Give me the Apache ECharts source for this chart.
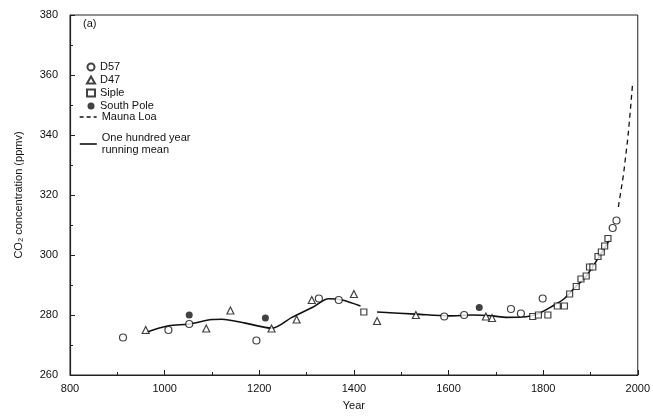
<!DOCTYPE html>
<html>
<head>
<meta charset="utf-8">
<script src="https://cdn.jsdelivr.net/npm/echarts@6/dist/echarts.min.js"></script>
<style>
  html, body { margin: 0; padding: 0; background: #fff; }
  #chart { width: 653px; height: 416px; }
</style>
</head>
<body>
<div id="chart"></div>
<script>
// ice core records (year AD, CO2 ppmv)
const d57Year = [912, 1008, 1052, 1194, 1326, 1368, 1591, 1633, 1732, 1753, 1799, 1947, 1955];
const d57Co2 = [272.5, 275, 277, 271.5, 285.5, 285, 279.5, 280, 282, 280.5, 285.5, 309, 311.5];

const d47Year = [960, 1088, 1139, 1226, 1279, 1311, 1400, 1449, 1531, 1679, 1692];
const d47Co2 = [275, 275.5, 281.5, 275.5, 278.5, 285, 287, 278, 280, 279.5, 279];

const sipleYear = [1421, 1778, 1790, 1810, 1830, 1845, 1856, 1870, 1880, 1891, 1898, 1905, 1916, 1923, 1930, 1937];
const sipleCo2 = [281, 279.5, 280, 280, 283, 283, 287, 289.5, 292, 293, 296, 296, 299.5, 301, 303, 305.5];

const southPoleYear = [1052, 1213, 1665];
const southPoleCo2 = [280, 279, 282.5];

const maunaLoaYear = [1959, 1962, 1970, 1979, 1984, 1989];
const maunaLoaCo2 = [316, 319, 327, 339, 347.5, 357];

// running mean, drawn in two pieces (gap near 1430)
const meanYearA = [960, 1008, 1052, 1100, 1121, 1170, 1227, 1269, 1312, 1347, 1375, 1414];
const meanCo2A = [274.2, 276.4, 277, 278.5, 278.6, 277.3, 275.6, 279.2, 282.5, 285.4, 285, 283];
const meanYearB = [1449, 1531, 1601, 1650, 1693, 1722, 1764, 1792, 1820, 1845, 1870, 1891, 1923, 1940];
const meanCo2B = [281, 280.3, 279.7, 280, 279.7, 279.2, 279.4, 280.6, 283, 285.5, 289.6, 292.9, 300.6, 305];

const yearTicks = [800, 1000, 1200, 1400, 1600, 1800, 2000];

const zip = (xs, ys) => xs.map((x, i) => [x, ys[i]]);

const chart = echarts.init(document.getElementById("chart"));

const openMarker = {
  color: "#fff",
  borderColor: "#111",
  borderWidth: 1.2,
};

const legendText = { fontSize: 11, color: "#111", lineHeight: 12 };

const option = {
  backgroundColor: "#fff",
  animation: false,
  textStyle: { fontFamily: "Liberation Sans, Arial, sans-serif", color: "#111" },
  grid: {
    left: 70,
    right: 15,
    top: 15,
    bottom: 36,
    show: true,
    borderColor: "#222",
    borderWidth: 1,
  },
  title: {
    text: "(a)",
    left: 78,
    top: 13,
    textStyle: { fontSize: 11, fontWeight: "normal", color: "#111" },
  },
  legend: [
    {
      orient: "vertical",
      left: 81,
      top: 56,
      itemWidth: 8,
      itemHeight: 7,
      itemGap: 1,
      textStyle: legendText,
      data: ["D57", "D47", "Siple", "South Pole"],
    },
    {
      orient: "vertical",
      left: 74,
      top: 106,
      itemWidth: 17,
      itemHeight: 7,
      textStyle: legendText,
      itemStyle: { opacity: 0 },
      lineStyle: { type: [4, 3], width: 1.3, color: "#111" },
      data: ["Mauna Loa"],
    },
    {
      orient: "vertical",
      left: 74,
      top: 127,
      itemWidth: 17,
      itemHeight: 7,
      textStyle: legendText,
      itemStyle: { opacity: 0 },
      lineStyle: { width: 1.6, color: "#111" },
      data: ["One hundred year running mean"],
      formatter: () => "One hundred year\nrunning mean",
    },
  ],
  xAxis: {
    type: "value",
    min: 800,
    max: 2000,
    interval: 200,
    name: "Year",
    nameLocation: "middle",
    nameGap: 25,
    nameTextStyle: { fontSize: 11, color: "#111" },
    axisLine: { lineStyle: { color: "#222", width: 1.2 } },
    axisTick: { inside: true, length: 5, lineStyle: { color: "#222" } },
    minorTick: { show: true, splitNumber: 2, length: 3, lineStyle: { color: "#222" } },
    axisLabel: {
      fontSize: 11,
      color: "#111",
      margin: 8,
      formatter: (v) => (yearTicks.includes(v) ? String(v) : ""),
    },
    splitLine: { show: false },
  },
  yAxis: {
    type: "value",
    min: 260,
    max: 380,
    interval: 20,
    name: "CO₂ concentration (ppmv)",
    nameLocation: "middle",
    nameGap: 46,
    nameTextStyle: { fontSize: 11, color: "#111" },
    axisLine: { show: true, lineStyle: { color: "#222", width: 1.2 } },
    axisTick: { inside: true, length: 5, lineStyle: { color: "#222" } },
    minorTick: { show: true, splitNumber: 2, length: 3, lineStyle: { color: "#222" } },
    axisLabel: { fontSize: 11, color: "#111", margin: 12 },
    splitLine: { show: false },
  },
  series: [
    {
      name: "D57",
      type: "scatter",
      symbol: "circle",
      symbolSize: 7,
      itemStyle: openMarker,
      data: zip(d57Year, d57Co2),
      z: 3,
    },
    {
      name: "D47",
      type: "scatter",
      symbol: "triangle",
      symbolSize: 7,
      itemStyle: openMarker,
      data: zip(d47Year, d47Co2),
      z: 3,
    },
    {
      name: "Siple",
      type: "scatter",
      symbol: "rect",
      symbolSize: 6,
      itemStyle: openMarker,
      data: zip(sipleYear, sipleCo2),
      z: 3,
    },
    {
      name: "South Pole",
      type: "scatter",
      symbol: "circle",
      symbolSize: 7,
      itemStyle: { color: "#111" },
      data: zip(southPoleYear, southPoleCo2),
      z: 4,
    },
    {
      name: "Mauna Loa",
      type: "line",
      symbol: "none",
      lineStyle: { color: "#111", width: 1.3, type: [5, 4] },
      itemStyle: { color: "#111" },
      data: zip(maunaLoaYear, maunaLoaCo2),
      z: 2,
    },
    {
      name: "One hundred year running mean",
      type: "line",
      symbol: "none",
      smooth: 0.3,
      lineStyle: { color: "#111", width: 1.6 },
      itemStyle: { color: "#111" },
      data: zip(meanYearA, meanCo2A),
      z: 2,
    },
    {
      name: "One hundred year running mean",
      type: "line",
      symbol: "none",
      smooth: 0.3,
      lineStyle: { color: "#111", width: 1.6 },
      itemStyle: { color: "#111" },
      data: zip(meanYearB, meanCo2B),
      z: 2,
    },
  ],
};

chart.setOption(option);
</script>
</body>
</html>
